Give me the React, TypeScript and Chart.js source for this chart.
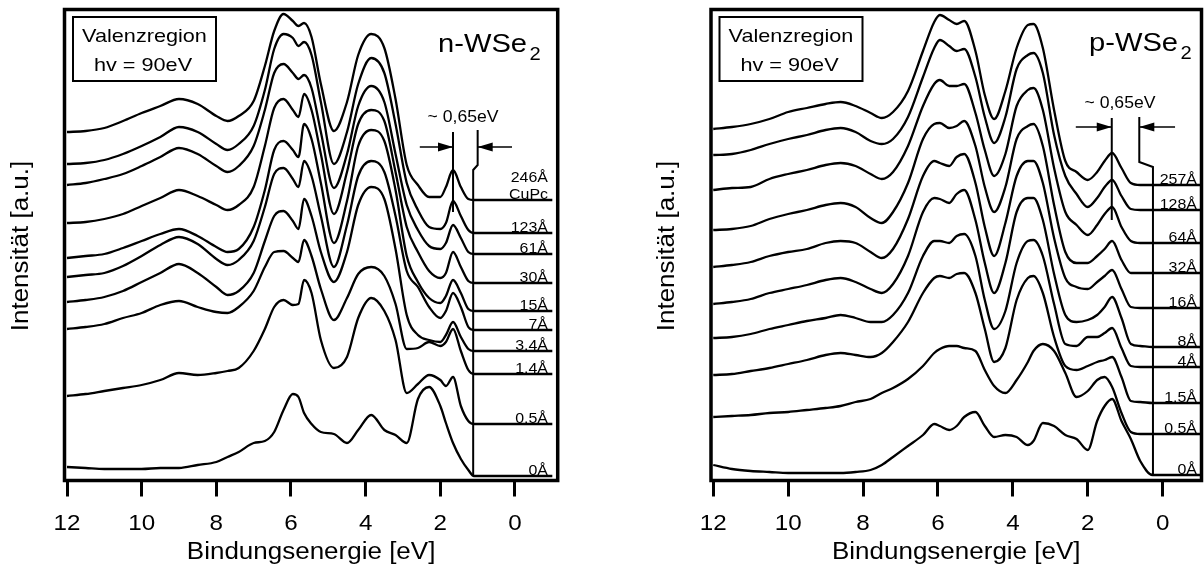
import React, { useEffect, useRef } from 'react';
import { Chart, registerables } from 'chart.js';

Chart.register(...registerables);

const FONT = '"Liberation Sans", Arial, Helvetica, sans-serif';

// ---------- shared axis ----------
const tickValues = [12, 10, 8, 6, 4, 2, 0];
const tickLabels = ['12', '10', '8', '6', '4', '2', '0'];

// ---------- n-WSe2 panel (binding energy in eV, intensity in a.u.) ----------
const nEnergy = [12, 11.5, 11, 10.5, 10, 9.5, 9, 8.5, 8, 7.7, 7.4, 7, 6.7, 6.45, 6.2, 5.95, 5.8, 5.65, 5.45, 5.2, 4.85, 4.5, 4.2, 3.85, 3.5, 3.2, 2.9, 2.6, 2.3, 2.0, 1.85, 1.66, 1.45, 1.25, 1.1, -1.0];
const n246 = [350, 351, 354, 361, 369, 376, 383, 378, 366, 361, 366, 381, 416, 451, 468, 461, 456, 459, 445, 398, 351, 380, 427, 448, 434, 383, 317, 297, 285, 285, 295, 312, 295, 283, 282, 282];
const n123 = [318, 319, 322, 328, 336, 345, 355, 350, 338, 332, 338, 356, 392, 433, 448, 444, 436, 440, 427, 380, 318, 350, 398, 424, 409, 358, 299, 272, 255, 253, 259, 281, 266, 252, 249, 249];
const n61 = [297, 299, 303, 308, 316, 325, 334, 328, 316, 310, 316, 336, 372, 409, 418, 409, 403, 407, 394, 350, 294, 328, 376, 396, 380, 328, 277, 252, 236, 233, 239, 257, 244, 230, 228, 228];
const n30 = [259, 260, 263, 268, 276, 284, 292, 286, 277, 272, 277, 295, 336, 374, 383, 372, 365, 388, 372, 328, 268, 310, 358, 372, 361, 310, 255, 230, 211, 204, 209, 230, 215, 201, 199, 199];
const n15 = [224, 226, 228, 234, 241, 248, 253, 246, 235, 230, 233, 255, 292, 332, 341, 332, 325, 358, 343, 299, 239, 281, 336, 352, 341, 292, 226, 200, 184, 179, 186, 202, 189, 173, 171, 171];
const n7 = [205, 207, 209, 216, 226, 237, 245, 238, 223, 217, 222, 241, 275, 308, 314, 303, 295, 321, 306, 266, 215, 257, 306, 321, 310, 266, 211, 195, 175, 164, 171, 189, 175, 155, 152, 152];
const n3_4 = [180, 182, 185, 191, 200, 209, 218, 209, 195, 187, 191, 209, 241, 266, 271, 261, 253, 283, 266, 230, 200, 230, 277, 295, 283, 233, 167, 147, 142, 140, 147, 160, 145, 133, 131, 131];
const n1_4 = [153, 155, 158, 164, 169, 177, 181, 175, 170, 169, 175, 191, 215, 230, 231, 224, 220, 242, 226, 193, 162, 184, 208, 215, 206, 178, 133, 134, 140, 136, 140, 153, 131, 112, 108, 108];
const n0_5 = [86, 88, 91, 94, 97, 102, 109, 107, 109, 111, 114, 131, 153, 175, 182, 177, 178, 202, 189, 142, 114, 125, 164, 184, 171, 142, 89, 98, 107, 102, 96, 105, 76, 61, 58, 58];
const n0 = [15, 14, 13, 13, 13, 14, 14, 17, 20, 25, 30, 39, 41, 50, 72, 88, 85, 69, 58, 50, 48, 39, 52, 67, 52, 47, 39, 83, 95, 76, 59, 39, 23, 12, 6, 6];
const nLabels = [['246Å', 'CuPc'], ['123Å'], ['61Å'], ['30Å'], ['15Å'], ['7Å'], ['3.4Å'], ['1.4Å'], ['0.5Å'], ['0Å']];
const nEdgeE = [1.12, 1.12, 1.0, 1.0];
const nEdgeI = [6, 312, 317, 352];
const nPeakE = [1.66, 1.66];
const nPeakI = [350, 270];
const nArrowLeftE = [2.55, 1.66];
const nArrowRightE = [0.08, 1.0];
const nArrowI = 335;

// ---------- p-WSe2 panel ----------
const pEnergy = [12, 11.5, 11, 10.5, 10, 9.5, 9, 8.6, 8.2, 7.8, 7.5, 7.2, 6.8, 6.4, 6.1, 5.95, 5.7, 5.5, 5.3, 5.0, 4.75, 4.5, 4.2, 3.9, 3.6, 3.45, 3.2, 2.9, 2.6, 2.3, 2.0, 1.75, 1.55, 1.35, 1.1, 0.85, 0.6, 0.27, -1.0];
const p257 = [353, 355, 358, 363, 370, 374, 378, 380, 376, 369, 364, 370, 391, 431, 460, 467, 462, 458, 461, 431, 387, 363, 391, 434, 457, 458, 434, 372, 321, 310, 302, 310, 321, 329, 314, 299, 297, 297, 297];
const p128 = [327, 328, 332, 338, 343, 347, 352, 354, 350, 341, 338, 343, 365, 405, 434, 442, 436, 431, 433, 405, 365, 339, 365, 413, 427, 429, 409, 347, 306, 288, 275, 284, 295, 302, 286, 273, 272, 272, 272];
const p64 = [292, 294, 295, 303, 308, 312, 317, 319, 316, 308, 303, 310, 336, 376, 398, 402, 396, 396, 398, 369, 332, 306, 328, 376, 392, 394, 372, 314, 270, 257, 247, 257, 268, 275, 255, 241, 239, 239, 239];
const p32 = [252, 253, 256, 263, 268, 272, 277, 279, 275, 264, 259, 270, 299, 343, 358, 359, 354, 356, 361, 336, 295, 270, 295, 343, 356, 358, 336, 277, 230, 219, 219, 226, 233, 241, 222, 209, 209, 209, 209];
const p16 = [215, 217, 220, 226, 230, 233, 239, 241, 239, 230, 224, 233, 263, 306, 321, 319, 316, 325, 328, 299, 255, 226, 259, 306, 321, 321, 299, 244, 204, 195, 193, 200, 206, 212, 193, 175, 174, 174, 174];
const p8 = [178, 180, 183, 189, 193, 197, 202, 204, 200, 193, 189, 198, 226, 270, 284, 283, 279, 288, 292, 262, 219, 189, 219, 270, 284, 284, 262, 208, 167, 160, 162, 167, 175, 185, 164, 138, 136, 135, 135];
const p4 = [144, 145, 148, 153, 157, 161, 164, 167, 164, 160, 160, 167, 189, 226, 241, 241, 239, 246, 248, 226, 182, 153, 171, 219, 241, 242, 226, 178, 138, 136, 145, 145, 149, 154, 134, 116, 115, 115, 115];
const p1_5 = [107, 108, 111, 114, 118, 122, 127, 129, 127, 125, 129, 140, 160, 189, 204, 206, 204, 208, 209, 189, 153, 120, 134, 182, 204, 206, 189, 145, 116, 112, 116, 120, 122, 125, 105, 81, 80, 79, 79];
const p0_5 = [65, 66, 67, 69, 70, 72, 74, 76, 80, 83, 89, 94, 103, 116, 129, 133, 136, 136, 134, 131, 112, 96, 89, 102, 120, 131, 138, 131, 109, 85, 91, 102, 105, 95, 69, 50, 48, 48, 48];
const p0 = [17, 13, 11, 10, 9, 9, 9, 9, 10, 12, 17, 25, 36, 47, 58, 56, 52, 56, 65, 70, 56, 45, 47, 45, 37, 41, 59, 56, 47, 43, 32, 61, 76, 83, 61, 43, 21, 7, 7];
const pLabels = [['257Å'], ['128Å'], ['64Å'], ['32Å'], ['16Å'], ['8Å'], ['4Å'], ['1.5Å'], ['0.5Å'], ['0Å']];
const pEdgeE = [0.26, 0.26, 0.625, 0.625];
const pEdgeI = [7, 315, 320, 365];
const pPeakE = [1.36, 1.36];
const pPeakI = [364, 262];
const pArrowLeftE = [2.32, 1.36];
const pArrowRightE = [-0.33, 0.625];
const pArrowI = 355;

type Spec = {
  key: string;
  energy: number[];
  series: number[][];
  labels: string[][];
  xMin: number;
  xMax: number;
  padLeft: number;
  padRight: number;
  title: string;
  titleRight: number;
  titleBase: number;
  labelRight: number;
  yTitleX: number;
  edgeE: number[];
  edgeI: number[];
  peakE: number[];
  peakI: number[];
  arrowL: number[];
  arrowR: number[];
  arrowI: number;
  noteE: number;
  noteI: number;
};

function txt(ctx: CanvasRenderingContext2D, s: string, x: number, y: number, size: number, align: CanvasTextAlign, stretch = 1.15, rot = 0) {
  ctx.save();
  ctx.translate(x, y);
  if (rot) ctx.rotate(rot);
  ctx.scale(stretch, 1);
  ctx.font = `${size}px ${FONT}`;
  ctx.textAlign = align;
  ctx.textBaseline = 'alphabetic';
  ctx.fillStyle = '#000';
  ctx.fillText(s, 0, 0);
  ctx.restore();
}

function head(ctx: CanvasRenderingContext2D, tipX: number, y: number, dir: number) {
  ctx.beginPath();
  ctx.moveTo(tipX, y);
  ctx.lineTo(tipX - dir * 15, y - 4.5);
  ctx.lineTo(tipX - dir * 15, y + 4.5);
  ctx.closePath();
  ctx.fill();
}

function makeOverlay(spec: Spec) {
  return {
    id: 'overlay-' + spec.key,
    afterDatasetsDraw(chart: any) {
      const { ctx, chartArea: a, scales } = chart;
      const X = (e: number) => scales.x.getPixelForValue(e);
      const Y = (v: number) => scales.y.getPixelForValue(v);
      ctx.save();
      ctx.strokeStyle = '#000';
      ctx.fillStyle = '#000';
      // frame
      ctx.lineWidth = 3.5;
      ctx.strokeRect(a.left, a.top, a.right - a.left, a.bottom - a.top);
      // info box
      ctx.lineWidth = 2;
      const bx = a.left + 8.5;
      ctx.strokeRect(bx, 17, 143, 64);
      txt(ctx, 'Valenzregion', bx + 71.5, 42, 19, 'center', 1.14);
      txt(ctx, 'hv = 90eV', bx + 70, 70.5, 19, 'center', 1.14);
      // title
      txt(ctx, spec.title, spec.titleRight, spec.titleBase, 26, 'right', 1.12);
      txt(ctx, '2', spec.titleRight + 2.5, spec.titleBase + 7.5, 18, 'left', 1.12);
      // arrow heads
      const ay = Y(spec.arrowI);
      head(ctx, X(spec.arrowL[1]), ay, 1);
      head(ctx, X(spec.arrowR[1]), ay, -1);
      txt(ctx, '~ 0,65eV', X(spec.noteE), Y(spec.noteI), 16, 'center', 1.1);
      // thickness labels
      spec.labels.forEach((lines, i) => {
        const s = spec.series[i];
        const base = Y(s[s.length - 1]) - 1.5;
        for (let k = lines.length - 1, j = 0; k >= 0; k--, j++) {
          txt(ctx, lines[k], spec.labelRight, base - j * 17, 14.5, 'right', 1.1);
        }
      });
      // tick labels
      tickValues.forEach((v, i) => {
        txt(ctx, tickLabels[i], X(v), 529.5, 22, 'center', 1.1);
      });
      // axis titles
      txt(ctx, 'Bindungsenergie [eV]', (a.left + a.right) / 2, 559, 23, 'center', 1.13);
      txt(ctx, 'Intensität [a.u.]', spec.yTitleX, 246, 23, 'center', 1.13, -Math.PI / 2);
      ctx.restore();
    },
  };
}

function makeConfig(spec: Spec): any {
  const pts = (xs: number[], ys: number[]) => xs.map((x, i) => ({ x, y: ys[i] }));
  const curve = (data: any[]) => ({
    data,
    borderColor: '#000',
    borderWidth: 2.3,
    pointRadius: 0,
    fill: false,
    cubicInterpolationMode: 'monotone',
  });
  const straight = (data: any[], w: number) => ({
    data,
    borderColor: '#000',
    borderWidth: w,
    pointRadius: 0,
    fill: false,
    tension: 0,
  });
  const datasets = [
    ...spec.series.map((s) => curve(pts(spec.energy, s))),
    straight(pts(spec.edgeE, spec.edgeI), 2),
    straight(pts(spec.peakE, spec.peakI), 2),
    straight(pts(spec.arrowL, [spec.arrowI, spec.arrowI]), 1.6),
    straight(pts(spec.arrowR, [spec.arrowI, spec.arrowI]), 1.6),
  ];
  return {
    type: 'line',
    data: { datasets },
    options: {
      responsive: false,
      maintainAspectRatio: false,
      animation: false,
      events: [],
      layout: { padding: { left: spec.padLeft, right: spec.padRight, top: 9.5, bottom: 0 } },
      plugins: { legend: { display: false }, tooltip: { enabled: false }, title: { display: false } },
      scales: {
        x: {
          type: 'linear',
          reverse: true,
          min: spec.xMin,
          max: spec.xMax,
          afterBuildTicks: (s: any) => {
            s.ticks = tickValues.map((v) => ({ value: v }));
          },
          afterFit: (s: any) => {
            s.height = 89.5;
          },
          ticks: { display: false },
          grid: {
            drawOnChartArea: false,
            drawTicks: true,
            tickLength: 16,
            tickWidth: 3,
            lineWidth: 3,
            tickColor: '#000',
            color: '#000',
          },
          border: { display: false },
        },
        y: { type: 'linear', display: false, min: 1.5, max: 472.5 },
      },
    },
    plugins: [makeOverlay(spec)],
  };
}

const nSpec: Spec = {
  key: 'n',
  energy: nEnergy,
  series: [n246, n123, n61, n30, n15, n7, n3_4, n1_4, n0_5, n0],
  labels: nLabels,
  xMin: -1.144,
  xMax: 12.067,
  padLeft: 64.5,
  padRight: 42.3,
  title: 'n-WSe',
  titleRight: 527,
  titleBase: 52,
  labelRight: 548,
  yTitleX: 28,
  edgeE: nEdgeE,
  edgeI: nEdgeI,
  peakE: nPeakE,
  peakI: nPeakI,
  arrowL: nArrowLeftE,
  arrowR: nArrowRightE,
  arrowI: nArrowI,
  noteE: 1.39,
  noteI: 360,
};

const pSpec: Spec = {
  key: 'p',
  energy: pEnergy,
  series: [p257, p128, p64, p32, p16, p8, p4, p1_5, p0_5, p0],
  labels: pLabels,
  xMin: -1.036,
  xMax: 12.06,
  padLeft: 111,
  padRight: 2.5,
  title: 'p-WSe',
  titleRight: 578,
  titleBase: 51,
  labelRight: 597,
  yTitleX: 74,
  edgeE: pEdgeE,
  edgeI: pEdgeI,
  peakE: pPeakE,
  peakI: pPeakI,
  arrowL: pArrowLeftE,
  arrowR: pArrowRightE,
  arrowI: pArrowI,
  noteE: 1.14,
  noteI: 374,
};

export default function App() {
  const leftRef = useRef<HTMLCanvasElement | null>(null);
  const rightRef = useRef<HTMLCanvasElement | null>(null);

  useEffect(() => {
    document.body.style.margin = '0';
    const charts: Chart[] = [];
    if (leftRef.current) charts.push(new Chart(leftRef.current, makeConfig(nSpec)));
    if (rightRef.current) charts.push(new Chart(rightRef.current, makeConfig(pSpec)));
    return () => {
      charts.forEach((c) => c.destroy());
    };
  }, []);

  return (
    <div style={{ position: 'relative', width: 1204, height: 570, background: '#fff' }}>
      <canvas ref={leftRef} width={600} height={570} style={{ position: 'absolute', left: 0, top: 0 }} />
      <canvas ref={rightRef} width={604} height={570} style={{ position: 'absolute', left: 600, top: 0 }} />
    </div>
  );
}
